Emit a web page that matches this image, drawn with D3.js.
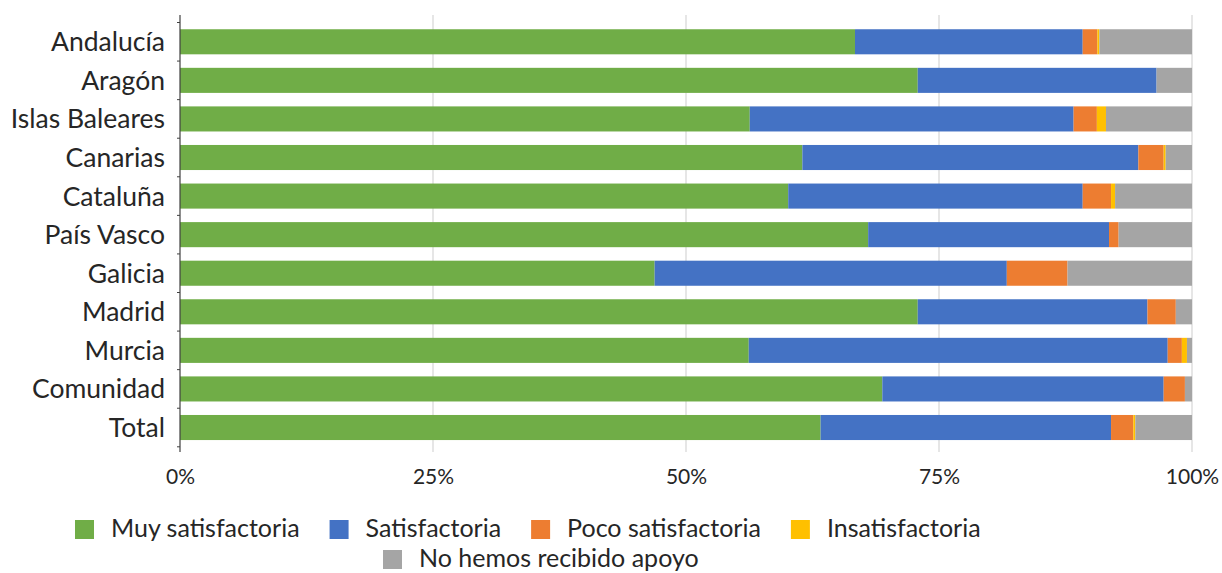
<!DOCTYPE html>
<html>
<head>
<meta charset="utf-8">
<script src="https://cdn.jsdelivr.net/npm/d3@7"></script>
<style>
  html, body { margin: 0; padding: 0; background: #fff; }
  svg { display: block; }
  text { font-family: Lato, "Open Sans", sans-serif; fill: #262626; }
</style>
</head>
<body>
<svg id="chart" width="1222" height="573"></svg>
<script>
const categories = ["Andalucía", "Aragón", "Islas Baleares", "Canarias", "Cataluña", "País Vasco", "Galicia", "Madrid", "Murcia", "Comunidad", "Total"];
const seriesNames = ["Muy satisfactoria", "Satisfactoria", "Poco satisfactoria", "Insatisfactoria", "No hemos recibido apoyo"];
const muySatisfactoria = [66.7, 72.9, 56.3, 61.5, 60.1, 68.0, 46.9, 72.9, 56.2, 69.4, 63.3];
const satisfactoria    = [22.5, 23.6, 32.0, 33.2, 29.1, 23.8, 34.8, 22.7, 41.4, 27.8, 28.7];
const pocoSatisfactoria= [1.45, 0.0, 2.3, 2.5, 2.8, 0.95, 6.0, 2.8, 1.4, 2.1, 2.2];
const insatisfactoria  = [0.2, 0.0, 0.9, 0.2, 0.4, 0.0, 0.0, 0.0, 0.5, 0.0, 0.2];
const noApoyo          = [9.15, 3.5, 8.5, 2.6, 7.6, 7.25, 12.3, 1.6, 0.5, 0.7, 5.6];
const tickValues = [0, 0.25, 0.5, 0.75, 1];
const colors = ["#70AD47", "#4472C4", "#ED7D31", "#FFC000", "#A5A5A5"];

const seriesArrays = [muySatisfactoria, satisfactoria, pocoSatisfactoria, insatisfactoria, noApoyo];
const rows = categories.map((c, i) => {
  const r = { cat: c };
  const tot = seriesArrays.reduce((s, a) => s + a[i], 0);
  seriesNames.forEach((n, k) => r[n] = seriesArrays[k][i] / tot);
  return r;
});

const svg = d3.select("#chart");
const plotTop = 15, plotBottom = 452;
const x = d3.scaleLinear().domain([0, 1]).range([180, 1192]);
const y = d3.scaleBand().domain(categories).range([22.5, 446.8]).paddingInner(13.5 / 38.57).paddingOuter(13.5 / 38.57 / 2);

// gridlines
svg.append("g").selectAll("line").data(tickValues.slice(1)).join("line")
  .attr("x1", d => x(d)).attr("x2", d => x(d))
  .attr("y1", plotTop).attr("y2", plotBottom)
  .attr("stroke", "#d9d9d9").attr("stroke-width", 1.3);

// bars
const stack = d3.stack().keys(seriesNames)(rows);
svg.append("g").selectAll("g").data(stack).join("g")
  .attr("fill", (d, i) => colors[i])
  .selectAll("rect").data(d => d).join("rect")
  .attr("x", d => x(d[0]))
  .attr("width", d => Math.max(0, x(d[1]) - x(d[0])))
  .attr("y", d => y(d.data.cat))
  .attr("height", y.bandwidth());

// y axis
const yAxis = d3.axisLeft(y).tickSize(0).tickPadding(15);
const gy = svg.append("g").attr("transform", "translate(180,0)").call(yAxis);
gy.select(".domain").remove();
gy.selectAll("text").style("font-size", "26.5px").attr("fill", "#1f1f1f").attr("dy", "0.36em");
gy.append("line").attr("x1", 0).attr("x2", 0).attr("y1", plotTop).attr("y2", plotBottom)
  .attr("stroke", "#404040").attr("stroke-width", 1.2);
const step = y.step();
const bounds = categories.map(c => y(c) - (step - y.bandwidth()) / 2).concat([y(categories[categories.length - 1]) + y.bandwidth() + (step - y.bandwidth()) / 2]);
gy.selectAll("line.bt").data(bounds).join("line").attr("class", "bt")
  .attr("x1", -3).attr("x2", 0).attr("y1", d => d).attr("y2", d => d)
  .attr("stroke", "#404040").attr("stroke-width", 1);

// x axis
const xAxis = d3.axisBottom(x).tickValues(tickValues).tickFormat(d3.format(".0%")).tickSize(0).tickPadding(0);
const gx = svg.append("g").attr("transform", "translate(0,476)").call(xAxis);
gx.select(".domain").remove();
gx.selectAll("text").style("font-size", "21px").attr("fill", "#262626").attr("dy", "0.36em");

// legend (flow layout, row 1: four items, row 2: last item)
const legendFont = 25;
const swatch = 19, swGap = 17, itemGap = 30;
const legendRows = [
  { items: [0, 1, 2, 3], startX: 75, base: 537 },
  { items: [4], startX: 383, base: 567 }
];
const lgRoot = svg.append("g");
legendRows.forEach(row => {
  let cx = row.startX;
  row.items.forEach(k => {
    const g = lgRoot.append("g");
    g.append("rect").attr("x", cx).attr("y", row.base - 17).attr("width", swatch).attr("height", swatch)
      .attr("fill", colors[k]);
    const t = g.append("text").attr("x", cx + swatch + swGap).attr("y", row.base)
      .style("font-size", legendFont + "px").attr("fill", "#1f1f1f").text(seriesNames[k]);
    cx += swatch + swGap + t.node().getComputedTextLength() + itemGap;
  });
});
</script>
</body>
</html>
